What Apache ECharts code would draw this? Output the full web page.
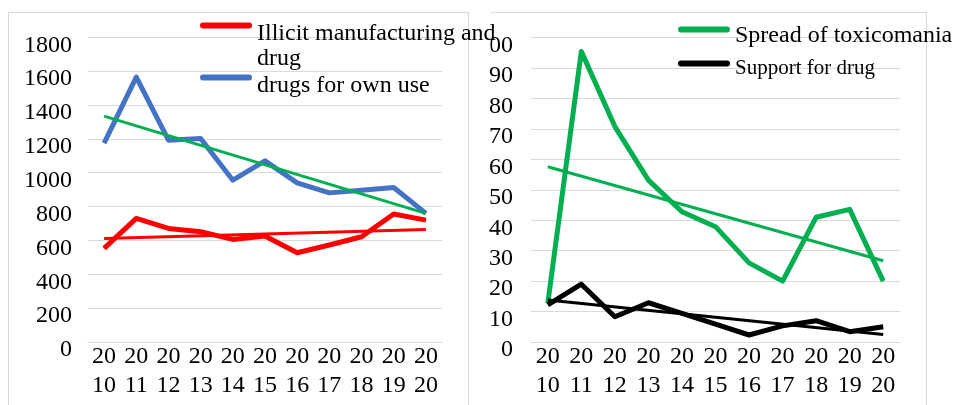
<!DOCTYPE html>
<html>
<head>
<meta charset="utf-8">
<script src="https://cdn.jsdelivr.net/npm/echarts@6/dist/echarts.min.js"></script>
<style>
  html, body { margin: 0; padding: 0; background: #fff; }
  #container { width: 958px; height: 405px; }
</style>
</head>
<body>
<div id="container"></div>
<script>
// categories
const years = ['2010', '2011', '2012', '2013', '2014', '2015', '2016', '2017', '2018', '2019', '2020'];

// left panel
const illicitManufacturing = [553, 730, 671, 651, 606, 626, 527, 573, 622, 756, 720];
const drugsOwnUse = [1175, 1565, 1192, 1202, 956, 1070, 940, 881, 897, 913, 760];
const illicitTrend = [612, 665];   // trendline at 2010 and 2020
const ownUseTrend = [1334, 760];
const leftTicks = [0, 1800, 200];  // min, max, step

// right panel
const toxicomania = [12.7, 95.5, 70.8, 53.2, 42.8, 37.9, 26, 20, 41, 43.6, 20];
const supportDrug = [12.2, 19, 8.3, 12.9, 9.4, 5.9, 2.3, 5.3, 7, 3.4, 5];
const toxicomaniaTrend = [57.6, 26.7];
const supportTrend = [13.8, 2.5];
const rightTicks = [0, 100, 10];

const FONT = "'Times New Roman', 'Liberation Serif', serif";
const GRID_COLOR = '#D9D9D9';
const lineIcon = 'path://M3,0 H49 A3,3 0 0 1 49,6 H3 A3,3 0 0 1 3,0 Z';

const trendData = (t) => [[years[0], t[0]], [years[years.length - 1], t[1]]];

const xAxisFor = (gridIndex) => ({
  type: 'category',
  gridIndex: gridIndex,
  data: years,
  boundaryGap: true,
  axisTick: { show: false },
  axisLine: { lineStyle: { color: GRID_COLOR, width: 1 } },
  axisLabel: {
    interval: 0,
    margin: 0,
    color: '#000',
    fontFamily: FONT,
    fontSize: 24,
    lineHeight: 29,
    formatter: (v) => v.slice(0, 2) + '\n' + v.slice(2)
  }
});

// labels sit a little below their gridline, like in the original
const yAxisFor = (gridIndex, ticks, margin) => ({
  type: 'value',
  gridIndex: gridIndex,
  min: ticks[0],
  max: ticks[1],
  interval: ticks[2],
  axisLine: { show: false },
  axisTick: { show: false },
  splitLine: { lineStyle: { color: GRID_COLOR, width: 1 } },
  axisLabel: {
    margin: margin,
    showMinLabel: true,
    showMaxLabel: true,
    color: '#000',
    fontFamily: FONT,
    fontSize: 24,
    lineHeight: 16,
    verticalAlign: 'top',
    formatter: (v) => String(v)
  }
});

// one legend per entry; "gap" pushes the text down from the icon
const legendFor = (name, lines, left, top, fontSize, lineHeight, gap) => ({
  data: [name],
  left: left,
  top: top,
  padding: 0,
  icon: lineIcon,
  itemWidth: 52,
  itemHeight: 6,
  itemGap: 0,
  selectedMode: false,
  formatter: () => '{e| }\n' + lines.map((l) => '{t|' + l + '}').join('\n'),
  textStyle: {
    color: '#000',
    fontFamily: FONT,
    fontSize: fontSize,
    rich: {
      e: { fontSize: 1, lineHeight: gap },
      t: { color: '#000', fontFamily: FONT, fontSize: fontSize, lineHeight: lineHeight }
    }
  }
});

const chart = echarts.init(document.getElementById('container'));
chart.setOption({
  animation: false,
  backgroundColor: '#fff',
  graphic: {
    elements: [
      { type: 'rect', z: -2, shape: { x: 440.5, y: 12.5, width: 486, height: 420 },
        style: { fill: '#fff', stroke: GRID_COLOR, lineWidth: 1 } },
      { type: 'rect', z: -1, shape: { x: 8.5, y: 12.5, width: 460, height: 420 },
        style: { fill: '#fff', stroke: GRID_COLOR, lineWidth: 1 } },
      // left legend box overlaps the right panel
      { type: 'rect', z: 3, shape: { x: 469.5, y: 0, width: 21, height: 56 },
        style: { fill: '#fff' } }
    ]
  },
  legend: [
    legendFor('Illicit manufacturing and drug', ['Illicit manufacturing and', 'drug'], 200, 0, 24, 25, 41),
    legendFor('drugs for own use', ['drugs for own use'], 200, 65, 24, 24, 16),
    legendFor('Spread of toxicomania', ['Spread of toxicomania'], 678, 17, 24, 24, 12),
    legendFor('Support for drug', ['Support for drug'], 678, 52.5, 21, 21, 10)
  ],
  grid: [
    { left: 88, right: 516, top: 37.3, bottom: 63, outerBoundsMode: 'none' },
    { left: 531, right: 58, top: 37.7, bottom: 63, outerBoundsMode: 'none' }
  ],
  xAxis: [xAxisFor(0), xAxisFor(1)],
  yAxis: [yAxisFor(0, leftTicks, 16), yAxisFor(1, rightTicks, 18)],
  series: [
    { name: 'Illicit manufacturing and drug', type: 'line', xAxisIndex: 0, yAxisIndex: 0,
      data: illicitManufacturing, symbol: 'none', color: '#FF0000',
      lineStyle: { width: 5, join: 'round' } },
    { name: 'drugs for own use', type: 'line', xAxisIndex: 0, yAxisIndex: 0,
      data: drugsOwnUse, symbol: 'none', color: '#4472C4',
      lineStyle: { width: 5, join: 'round' } },
    { name: 'illicit trend', type: 'line', xAxisIndex: 0, yAxisIndex: 0,
      data: trendData(illicitTrend), symbol: 'none', color: '#FF0000',
      lineStyle: { width: 3 } },
    { name: 'own use trend', type: 'line', xAxisIndex: 0, yAxisIndex: 0,
      data: trendData(ownUseTrend), symbol: 'none', color: '#00B050',
      lineStyle: { width: 3 } },
    { name: 'Spread of toxicomania', type: 'line', xAxisIndex: 1, yAxisIndex: 1,
      data: toxicomania, symbol: 'none', color: '#00B050',
      lineStyle: { width: 5, join: 'round' } },
    { name: 'Support for drug', type: 'line', xAxisIndex: 1, yAxisIndex: 1,
      data: supportDrug, symbol: 'none', color: '#000000',
      lineStyle: { width: 5, join: 'round' } },
    { name: 'toxicomania trend', type: 'line', xAxisIndex: 1, yAxisIndex: 1,
      data: trendData(toxicomaniaTrend), symbol: 'none', color: '#00B050',
      lineStyle: { width: 3 } },
    { name: 'support trend', type: 'line', xAxisIndex: 1, yAxisIndex: 1,
      data: trendData(supportTrend), symbol: 'none', color: '#000000',
      lineStyle: { width: 3 } }
  ]
});
</script>
</body>
</html>
